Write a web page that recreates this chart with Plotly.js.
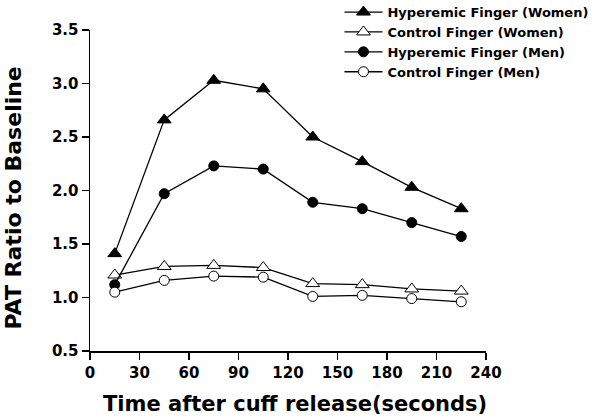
<!DOCTYPE html>
<html>
<head>
<meta charset="utf-8">
<script src="https://cdn.plot.ly/plotly-3.0.1.min.js"></script>
<style>html,body{margin:0;padding:0;background:#fff;}#chart{width:600px;height:420px;}</style>
</head>
<body>
<div id="chart"></div>
<script>
const timeSec = [15, 45, 75, 105, 135, 165, 195, 225];
const hyperWomen = [1.41, 2.66, 3.03, 2.95, 2.50, 2.27, 2.03, 1.83];
const controlWomen = [1.21, 1.29, 1.30, 1.28, 1.13, 1.12, 1.08, 1.06];
const hyperMen = [1.12, 1.97, 2.23, 2.20, 1.89, 1.83, 1.70, 1.57];
const controlMen = [1.05, 1.16, 1.20, 1.19, 1.01, 1.02, 0.99, 0.96];
const seriesNames = ['Hyperemic Finger (Women)', 'Control Finger (Women)', 'Hyperemic Finger (Men)', 'Control Finger (Men)'];
const xTicks = [0, 30, 60, 90, 120, 150, 180, 210, 240];
const yTicks = [0.5, 1.0, 1.5, 2.0, 2.5, 3.0, 3.5];
const xTitle = 'Time after cuff release(seconds)';
const yTitle = 'PAT Ratio to Baseline';

function trace(name, y, symbol, fill, size) {
  return {
    x: timeSec, y: y, name: name, type: 'scatter', mode: 'lines+markers',
    line: {color: '#000', width: 1.3},
    marker: {symbol: symbol, size: size, color: fill, line: {color: '#000', width: 1}},
    cliponaxis: false
  };
}
const data = [
  trace(seriesNames[0], hyperWomen, 'triangle-up', '#000', 12),
  trace(seriesNames[1], controlWomen, 'triangle-up', '#fff', 12),
  trace(seriesNames[2], hyperMen, 'circle', '#000', 10),
  trace(seriesNames[3], controlMen, 'circle', '#fff', 10)
];

const fam = 'DejaVu Sans, sans-serif';
const titleFont = {family: fam, size: 22, weight: 'bold', color: '#000'};
const layout = {
  width: 600, height: 420,
  margin: {l: 90, r: 114, t: 30, b: 69, autoexpand: false},
  paper_bgcolor: '#fff', plot_bgcolor: '#fff',
  font: {family: fam, color: '#000'},
  showlegend: true,
  legend: {x: 0.63, y: 1.1025, xanchor: 'left', yanchor: 'top', bgcolor: 'rgba(0,0,0,0)', itemwidth: 38,
           font: {family: fam, size: 13, weight: 'bold', color: '#000'}, tracegroupgap: 0},
  xaxis: {
    range: [0, 240], tickvals: xTicks, ticktext: xTicks.map(String),
    showline: true, linecolor: '#000', linewidth: 1.5, ticks: 'outside', ticklen: 7, tickwidth: 1.5, tickcolor: '#000',
    showgrid: false, zeroline: false,
    tickfont: {family: fam, size: 15, weight: 'bold', color: '#000'}
  },
  yaxis: {
    range: [0.5, 3.5], tickvals: yTicks, ticktext: yTicks.map(v => v.toFixed(1)),
    showline: true, linecolor: '#000', linewidth: 1.5, ticks: 'outside', ticklen: 7, tickwidth: 1.5, tickcolor: '#000',
    showgrid: false, zeroline: false,
    tickfont: {family: fam, size: 15, weight: 'bold', color: '#000'}
  },
  annotations: [
    {text: xTitle, xref: 'paper', yref: 'paper', x: 0.5, y: 0, xanchor: 'center', yanchor: 'middle',
     xshift: 7, yshift: -53, showarrow: false, font: {family: fam, size: 21, weight: 'bold', color: '#000'}},
    {text: yTitle, xref: 'paper', yref: 'paper', x: 0, y: 0.5, xanchor: 'center', yanchor: 'middle',
     textangle: -90, xshift: -77, yshift: -8, showarrow: false, font: titleFont}
  ]
};
Plotly.newPlot('chart', data, layout, {displayModeBar: false, staticPlot: true});
</script>
</body>
</html>
